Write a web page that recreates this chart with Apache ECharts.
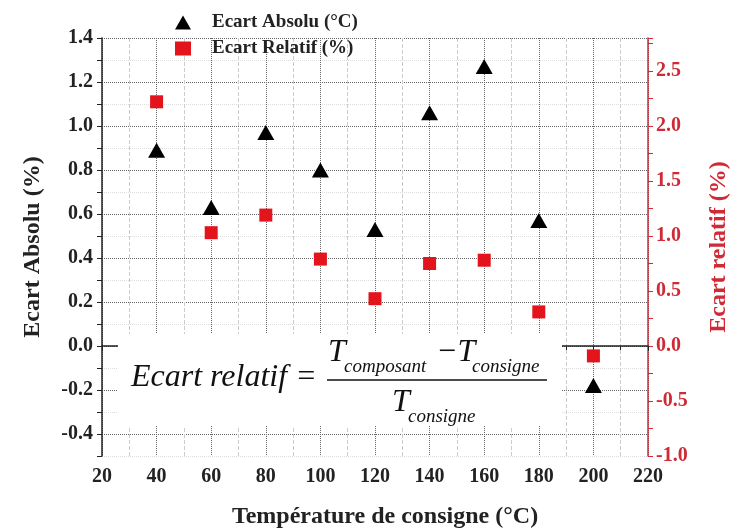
<!DOCTYPE html>
<html>
<head>
<meta charset="utf-8">
<script src="https://cdn.jsdelivr.net/npm/echarts@6/dist/echarts.min.js"></script>
<style>
  html, body { margin: 0; padding: 0; background: #fff; }
  #chart { width: 731px; height: 532px; }
</style>
</head>
<body>
<div id="chart"></div>
<script>
// temperatures de consigne
var temperatures = [40, 60, 80, 100, 120, 140, 160, 180, 200];
// ecart absolu (axe gauche)
var ecartAbsolu = [0.89, 0.63, 0.97, 0.80, 0.53, 1.06, 1.27, 0.57, -0.18];
// ecart relatif (axe droit)
var ecartRelatif = [2.22, 1.03, 1.19, 0.79, 0.43, 0.75, 0.78, 0.31, -0.09];

var serif = 'Liberation Serif';
var red = '#e3141b';
var axisRed = '#cf2a35';

var chart = echarts.init(document.getElementById('chart'), null, {renderer: 'canvas'});

var toPairs = function(ys){
    return temperatures.map(function(t, i){ return [t, ys[i]]; });
};

var option = {
    backgroundColor: '#fff',
    animation: false,
    grid: {left: 102, right: 83, top: 38, bottom: 76, outerBoundsMode: 'none'},
    legend: {
        orient: 'vertical',
        left: 170,
        top: 8,
        itemGap: 7,
        itemWidth: 16,
        itemHeight: 14,
        textStyle: {fontFamily: serif, fontWeight: 'bold', fontSize: 19, color: '#222', padding: [0, 0, 0, 16]},
        data: [
            {name: 'Ecart Absolu (°C)', icon: 'triangle', itemStyle: {color: '#000'}},
            {name: 'Ecart Relatif (%)', icon: 'rect', itemStyle: {color: red}}
        ]
    },
    xAxis: {
        type: 'value',
        min: 20, max: 220, interval: 20,
        name: 'Température de consigne (°C)',
        nameLocation: 'middle',
        nameGap: 49,
        nameTextStyle: {fontFamily: serif, fontWeight: 'bold', fontSize: 24, color: '#222', padding: [0, 0, 0, 20]},
        axisLine: {lineStyle: {color: '#222', width: 1.5}},
        axisTick: {length: 5, lineStyle: {color: '#222'}},
        minorTick: {show: true, splitNumber: 2, length: 4, lineStyle: {color: '#222'}},
        axisLabel: {fontFamily: serif, fontWeight: 'bold', fontSize: 20, color: '#222', margin: 11},
        splitLine: {show: true, lineStyle: {color: '#666', type: 'dotted', width: 1}},
        minorSplitLine: {show: true, lineStyle: {color: '#ccc', type: 'dashed', width: 1}}
    },
    yAxis: [{
        type: 'value',
        min: -0.5, max: 1.4, interval: 0.1,
        name: 'Ecart Absolu (%)',
        nameLocation: 'middle',
        nameRotate: 90,
        nameGap: 57,
        nameTextStyle: {fontFamily: serif, fontWeight: 'bold', fontSize: 24, color: '#222'},
        axisLine: {show: true, onZero: false, lineStyle: {color: '#222', width: 1.5}},
        axisTick: {show: true, length: 5, lineStyle: {color: '#222'}},
        axisLabel: {
            fontFamily: serif, fontWeight: 'bold', fontSize: 20, color: '#222', margin: 9,
            formatter: function(v){
                var k = Math.round(v * 10);
                return (k % 2 === 0) ? (k / 10).toFixed(1) : '';
            }
        },
        splitLine: {show: true, lineStyle: {color: ['#ddd', '#666'], type: 'dotted', width: 1}}
    }, {
        type: 'value',
        min: -1, max: 2.8, interval: 0.25,
        position: 'right',
        name: 'Ecart relatif (%)',
        nameLocation: 'middle',
        nameRotate: 90,
        nameGap: 59,
        nameTextStyle: {fontFamily: serif, fontWeight: 'bold', fontSize: 24, color: axisRed},
        axisLine: {show: true, onZero: false, lineStyle: {color: axisRed, width: 1.5}},
        axisTick: {show: true, length: 5, lineStyle: {color: axisRed}},
        axisLabel: {
            fontFamily: serif, fontWeight: 'bold', fontSize: 20, color: axisRed, margin: 8,
            formatter: function(v){
                var k = Math.round(v * 4);
                return (k % 2 === 0) ? (k / 4).toFixed(1) : '';
            }
        },
        splitLine: {show: false}
    }],
    series: [{
        name: 'Ecart Absolu (°C)',
        type: 'scatter',
        yAxisIndex: 0,
        symbol: 'triangle',
        symbolSize: [17, 15],
        itemStyle: {color: '#000', opacity: 1},
        data: toPairs(ecartAbsolu),
        z: 3
    }, {
        name: 'Ecart Relatif (%)',
        type: 'scatter',
        yAxisIndex: 1,
        symbol: 'rect',
        symbolSize: 13,
        itemStyle: {color: red, opacity: 1},
        data: toPairs(ecartRelatif),
        z: 3
    }],
    // formule : Ecart relatif = (T_composant - T_consigne) / T_consigne
    graphic: [
        {type: 'rect', shape: {x: 118, y: 334, width: 444, height: 92}, style: {fill: '#fff'}, z: 1},
        {type: 'text', left: 131, top: 362, style: {text: 'Ecart relatif =', font: 'italic 32px ' + serif, fill: '#111'}, z: 2},
        {type: 'text', left: 328, top: 337, style: {text: 'T', font: 'italic 32px ' + serif, fill: '#111'}, z: 2},
        {type: 'text', left: 344, top: 357, style: {text: 'composant', font: 'italic 19px ' + serif, fill: '#111'}, z: 2},
        {type: 'text', left: 436, top: 337, style: {text: '\u2212T', font: 'italic 32px ' + serif, fill: '#111'}, z: 2},
        {type: 'text', left: 472, top: 357, style: {text: 'consigne', font: 'italic 19px ' + serif, fill: '#111'}, z: 2},
        {type: 'line', shape: {x1: 327, y1: 380, x2: 547, y2: 380}, style: {stroke: '#111', lineWidth: 1.5}, z: 2},
        {type: 'text', left: 392, top: 387, style: {text: 'T', font: 'italic 32px ' + serif, fill: '#111'}, z: 2},
        {type: 'text', left: 408, top: 407, style: {text: 'consigne', font: 'italic 19px ' + serif, fill: '#111'}, z: 2}
    ]
};

chart.setOption(option);
</script>
</body>
</html>
